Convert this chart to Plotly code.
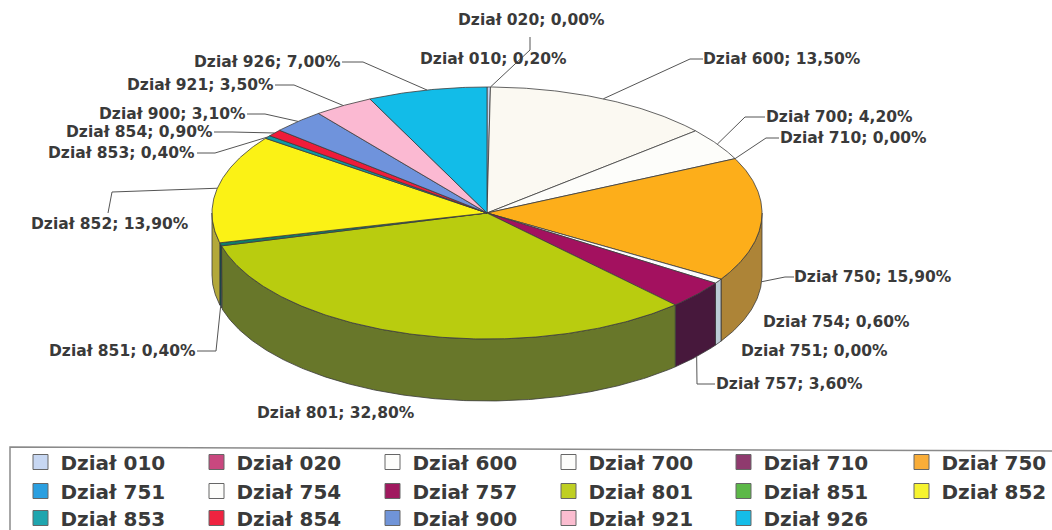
import math
import plotly.graph_objects as go

# ---- data ----
categories = ["Dział 010", "Dział 020", "Dział 600", "Dział 700", "Dział 710", "Dział 750",
              "Dział 751", "Dział 754", "Dział 757", "Dział 801", "Dział 851", "Dział 852",
              "Dział 853", "Dział 854", "Dział 900", "Dział 921", "Dział 926"]
shares = [0.20, 0.00, 13.50, 4.20, 0.00, 15.90, 0.00, 0.60, 3.60, 32.80, 0.40, 13.90,
          0.40, 0.90, 3.10, 3.50, 7.00]
legend_colors = ["#c7d7f2", "#c9487f", "#fdfdfb", "#fdfdfb", "#8f3a6e", "#f9ad38",
                 "#2a9fe0", "#fdfdfb", "#a0195f", "#bfcf22", "#5cb848", "#f6f32f",
                 "#1fa5ae", "#ef2340", "#7094d8", "#fbbdd0", "#15bde8"]
top_colors = ["#c7d7f2", "#c9487f", "#fbf9f2", "#fdfdfa", "#8f3a6e", "#fdae1a",
              "#2a9fe0", "#fdfdfd", "#a3115f", "#b9cc0f", "#0f7f6a", "#fbf215",
              "#0f9aa5", "#ef1c3a", "#6f93dc", "#fbb9d2", "#12bce8"]
side_colors = ["#8a98ad", "#7a2c50", "#a8a69e", "#a8a8a6", "#5a2446", "#ad8437",
               "#1c6a95", "#bccbd6", "#47183c", "#68772a", "#0d4f55", "#b3a83a",
               "#0b6168", "#9c1226", "#475f90", "#a47a8a", "#0c7a98"]

# label centre (x, y) in page pixels, and leader-line waypoints from label to the rim
label_pos = {
    "Dział 010": (493, 59), "Dział 020": (531, 20), "Dział 600": (782, 59), "Dział 700": (839, 117),
    "Dział 710": (853, 138), "Dział 750": (873, 277), "Dział 751": (814, 351), "Dział 754": (836, 322),
    "Dział 757": (789, 384), "Dział 801": (336, 413), "Dział 851": (122, 351), "Dział 852": (110, 224),
    "Dział 853": (121, 153), "Dział 854": (139, 132), "Dział 900": (172, 114), "Dział 921": (200, 85),
    "Dział 926": (267, 62),
}
leaders = {
    "Dział 020": ([(530, 37), (530, 50)], False), "Dział 600": ([(703, 59), (690, 59)], False),
    "Dział 700": ([(765, 117), (745, 117)], False), "Dział 710": ([(779, 138), (766, 138)], False),
    "Dział 750": ([(794, 277), (785, 277)], True), "Dział 757": ([(715, 384), (697, 384)], True),
    "Dział 851": ([(197, 351), (216, 351)], True), "Dział 852": ([(108, 213), (112, 192)], False),
    "Dział 853": ([(197, 153), (215, 153)], False), "Dział 854": ([(214, 132), (232, 132)], False),
    "Dział 900": ([(247, 114), (265, 114)], False), "Dział 921": ([(275, 85), (294, 85)], False),
    "Dział 926": ([(342, 62), (363, 62)], False),
}

# ---- geometry of the tilted pie (page pixels) ----
PAGE_W, PAGE_H = 1052, 530
CX, CY, A, B, DEPTH = 487, 213, 275, 126, 62
FONT = "DejaVu Sans"
TEXT = "#3a3a3a"

def rim(theta, drop=0):
    t = math.radians(theta)
    return CX + A * math.sin(t), CY - B * math.cos(t) + drop

def arc(a0, a1, drop=0):
    n = max(2, int(abs(a1 - a0) / 0.5) + 1)
    return [rim(a0 + (a1 - a0) * i / (n - 1), drop) for i in range(n)]

fig = go.Figure()
starts, acc = [], 0.0
total = sum(shares)
for v in shares:
    starts.append(acc / total * 360)
    acc += v
ends = starts[1:] + [360.0]

# side walls
for name, a0, a1, col in zip(categories, starts, ends, side_colors):
    lo, hi = max(a0, 90), min(a1, 270)
    if hi <= lo:
        continue
    pts = arc(lo, hi) + arc(hi, lo, DEPTH)
    pts.append(pts[0])
    fig.add_trace(go.Scatter(x=[p[0] for p in pts], y=[p[1] for p in pts], mode="lines", fill="toself",
                             fillcolor=col, line=dict(color="#3a3a3a", width=0.8),
                             showlegend=False, hoverinfo="skip"))
# top slices
for name, a0, a1, col, v in zip(categories, starts, ends, top_colors, shares):
    if v == 0:
        continue
    pts = [(CX, CY)] + arc(a0, a1) + [(CX, CY)]
    fig.add_trace(go.Scatter(x=[p[0] for p in pts], y=[p[1] for p in pts], mode="lines", fill="toself",
                             fillcolor=col, line=dict(color="#3c3c3c", width=0.8),
                             name=name, showlegend=False, hoverinfo="name"))

# leader lines: last point is the rim at the slice's mid angle
for name, a0, a1 in zip(categories, starts, ends):
    if name not in leaders:
        continue
    way, lower = leaders[name]
    end = rim((a0 + a1) / 2, DEPTH if lower else 0)
    pts = way + [end]
    fig.add_trace(go.Scatter(x=[p[0] for p in pts], y=[p[1] for p in pts], mode="lines",
                             line=dict(color="#555555", width=1), showlegend=False, hoverinfo="skip"))

# legend entries: each placed on the reference's 6 x 3 grid (page pixels of the swatch centre)
LEGEND_COLS = 6
swatch_x = [39, 215, 391, 567, 742, 920]
swatch_y = [462, 491, 518]
legend_layout = {}
for i, (name, col) in enumerate(zip(categories, legend_colors)):
    key = "legend" if i == 0 else f"legend{i + 1}"
    fig.add_trace(go.Scatter(x=[None], y=[None], mode="markers", name=name, legend=key,
                             marker=dict(symbol="square", size=15, color=col,
                                         line=dict(color="#666666", width=1))))
    sx, sy = swatch_x[i % LEGEND_COLS], swatch_y[i // LEGEND_COLS]
    legend_layout[key] = dict(
        orientation="v", x=(sx - 18.5) / PAGE_W, y=1 - sy / PAGE_H,
        xanchor="left", yanchor="middle", bgcolor="rgba(0,0,0,0)", borderwidth=0,
        font=dict(family=FONT, size=20, color=TEXT, weight="bold"),
        itemclick=False, itemdoubleclick=False)

annotations = []
for name, v in zip(categories, shares):
    text = f"{name}; {v:.2f}%".replace(".", ",")
    x, y = label_pos[name]
    annotations.append(dict(x=x, y=y, xref="x", yref="y", text=text, showarrow=False,
                            xanchor="center", yanchor="middle",
                            font=dict(family=FONT, size=15.5, color=TEXT, weight="bold")))

fig.update_layout(
    width=PAGE_W, height=PAGE_H, autosize=False,
    margin=dict(l=0, r=0, t=0, b=0, autoexpand=False),
    paper_bgcolor="white", plot_bgcolor="white",
    xaxis=dict(range=[0, PAGE_W], visible=False, fixedrange=True),
    yaxis=dict(range=[PAGE_H, 0], visible=False, fixedrange=True),
    annotations=annotations,
    shapes=[dict(type="path", path="M 10 530 L 10 447 L 1052 451", xref="x", yref="y",
                 line=dict(color="#8a8a8a", width=1.5))],
    **legend_layout,
)
fig.write_html("out.html", config=dict(displayModeBar=False),
               post_script="document.body.style.margin='0';document.documentElement.style.overflow='hidden';")
